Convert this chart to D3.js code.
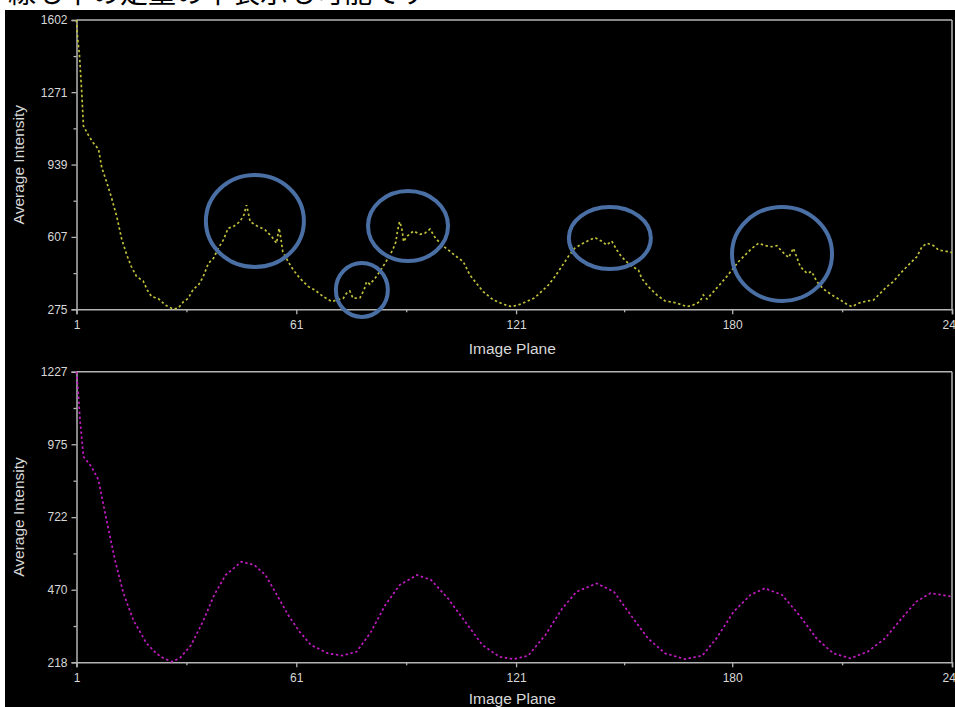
<!DOCTYPE html>
<html>
<head>
<meta charset="utf-8">
<script src="https://cdn.jsdelivr.net/npm/d3@7"></script>
<style>
  html, body { margin: 0; padding: 0; background: #ffffff; }
  svg { display: block; }
</style>
</head>
<body>
<svg id="chart" width="955" height="707"></svg>
<script>
// ---------------- DATA ----------------
const captionText = "線も中の定量の中表示も可能です";

const xTickLabels = ["1", "61", "121", "180", "240"];
const yTickLabelsTop = ["275", "607", "939", "1271", "1602"];
const yTickLabelsBottom = ["218", "470", "722", "975", "1227"];
const xTitle = "Image Plane";
const yTitle = "Average Intensity";

// Top series (yellow): image plane / average intensity
const planesTop = [1, 1.3, 1.8, 2.4, 2.9, 4.2, 5.5, 7, 7.9, 9.2, 10.5, 12, 13.3, 14.7, 16, 17.4, 19.2, 20.3, 21.5, 23.3, 25.2, 27.4, 28.8, 30.2, 31.5, 32.9, 34.3, 35.6, 37, 38.4, 39.7, 41.1, 42.4, 43.8, 45.6, 46.7, 47.4, 47.9, 48.4, 50.2, 52.5, 54.3, 55.6, 56.3, 56.8, 57.3, 58.8, 60.2, 62, 64.3, 66.1, 68.4, 70.7, 72, 73.8, 74.7, 75.6, 76.5, 78.4, 79.5, 80.2, 81.1, 82.5, 83.8, 85.2, 86.6, 87.5, 88.2, 88.6, 89.2, 89.8, 90.3, 91.1, 93, 94.8, 96.1, 97.5, 98.9, 100.7, 102.5, 104.8, 106.6, 108.4, 110.2, 112, 114.8, 117.5, 119.8, 121.6, 123.4, 126.1, 127.9, 129.8, 131.6, 133.4, 135.2, 137, 139.3, 141.1, 142.5, 144.3, 145.7, 147.1, 148.5, 149.8, 152.1, 154.4, 155.3, 157.1, 159.4, 161.7, 164, 165.8, 167.6, 169.4, 171.2, 172.1, 173.1, 174.9, 176.7, 178.5, 179.9, 181.7, 183.5, 185.4, 187.2, 189, 190.8, 192.2, 193.5, 195.4, 196.7, 197.4, 198.6, 200.4, 201.7, 203.1, 204.9, 207.2, 209.5, 211.3, 212.7, 214.5, 216.8, 218.6, 220.4, 222.2, 224, 225.9, 228.1, 230.4, 231.8, 233.2, 235, 236.3, 239.1, 240];
const valuesTop = [1602, 1520, 1441, 1280, 1116, 1075, 1040, 1010, 925, 860, 790, 700, 600, 525, 470, 425, 405, 364, 333, 325, 295, 276, 281, 310, 325, 368, 386, 425, 486, 509, 555, 593, 647, 654, 677, 708, 753, 718, 677, 658, 639, 608, 578, 647, 600, 539, 493, 455, 417, 379, 363, 333, 310, 318, 325, 348, 359, 325, 328, 364, 402, 390, 417, 448, 486, 524, 555, 585, 632, 677, 647, 585, 608, 634, 619, 624, 643, 604, 570, 547, 516, 493, 432, 394, 356, 318, 298, 287, 295, 307, 328, 356, 386, 425, 470, 516, 555, 578, 593, 604, 588, 570, 588, 547, 516, 478, 455, 417, 379, 341, 313, 307, 298, 287, 295, 310, 341, 322, 356, 390, 425, 455, 493, 524, 555, 578, 567, 562, 567, 542, 512, 555, 524, 470, 440, 448, 402, 368, 341, 318, 298, 287, 303, 313, 318, 348, 379, 402, 440, 478, 516, 562, 578, 567, 547, 539, 535];

// Bottom series (magenta)
const planesBottom = [1, 1.5, 1.96, 2.9, 5.1, 7, 7.9, 9.2, 11.5, 13.8, 16.5, 20.1, 22.8, 24.5, 26.9, 29.2, 32.3, 35.5, 38.6, 41.7, 46, 49.5, 52.6, 55.7, 58.8, 61.9, 65, 69.7, 73.6, 77.5, 81.4, 85.3, 89.2, 93.9, 97.8, 102.4, 107.1, 111.8, 116.5, 120.4, 124.3, 129, 133.6, 137.5, 143, 147.7, 152.3, 157, 161.7, 167.1, 171.8, 175.7, 180.4, 185, 188.9, 193.6, 198.3, 203, 207.6, 212.3, 217, 221.7, 226.3, 230.2, 234.1, 237.2, 240];
const valuesBottom = [1227, 1150, 1059, 932, 897, 851, 793, 712, 573, 458, 365, 284, 249, 234, 220, 232, 278, 359, 452, 521, 567, 556, 521, 452, 382, 324, 278, 249, 241, 255, 324, 417, 486, 521, 504, 440, 359, 278, 237, 229, 241, 313, 405, 463, 492, 463, 382, 301, 249, 229, 241, 301, 394, 452, 475, 452, 382, 301, 249, 232, 255, 301, 371, 428, 458, 452, 446];

// Annotation ellipses on the top chart (centre in data units)
const markPlanes = [49.7, 78.9, 91.5, 146.6, 193.6];
const markValues = [680, 364, 657, 602, 529];

// ---------------- LAYOUT ----------------
const svg = d3.select("#chart");
const W = 955, H = 707;
const xLeft = 76.5, xRight = 952;
const panels = [
  { top: 20, bottom: 309.3, labels: yTickLabelsTop, planes: planesTop, values: valuesTop, color: "#c2c23a", titleY: 349 },
  { top: 371.7, bottom: 662.3, labels: yTickLabelsBottom, planes: planesBottom, values: valuesBottom, color: "#c41cc4", titleY: 699 }
];
const markRx = [49, 26, 40, 41, 50];
const markRy = [46, 27, 35, 31, 47];

// caption (mostly hidden behind the black panel, as in the screenshot)
svg.append("text")
  .attr("x", 8).attr("y", 3)
  .attr("font-family", "'Noto Sans CJK JP', 'Noto Sans CJK SC', sans-serif")
  .attr("font-size", 28)
  .attr("fill", "#000")
  .text(captionText);

svg.append("rect")
  .attr("x", 5).attr("y", 10).attr("width", W - 5).attr("height", H - 10)
  .attr("fill", "#000");

const axisColor = "#b4b4b4";
const labelColor = "#d8d8d8";
const font = "'Liberation Sans', Arial, sans-serif";

const xTickVals = xTickLabels.map(Number);
const xMinor = d3.pairs(xTickVals).map(([a, b]) => (a + b) / 2);

const x = d3.scaleLinear().domain([xTickVals[0], xTickVals[xTickVals.length - 1]]).range([xLeft, xRight]);

panels.forEach((p, idx) => {
  const yVals = p.labels.map(Number);
  const yMinor = d3.pairs(yVals).map(([a, b]) => (a + b) / 2);
  const y = d3.scaleLinear().domain([yVals[0], yVals[yVals.length - 1]]).range([p.bottom, p.top]);
  const g = svg.append("g");

  // frame (top and right)
  g.append("line").attr("x1", xLeft).attr("x2", xRight).attr("y1", p.top).attr("y2", p.top)
    .attr("stroke", axisColor).attr("stroke-width", 1.5);
  g.append("line").attr("x1", xRight).attr("x2", xRight).attr("y1", p.top).attr("y2", p.bottom)
    .attr("stroke", axisColor).attr("stroke-width", 1.5);

  // y axis
  g.append("g").attr("transform", `translate(${xLeft},0)`)
    .call(d3.axisLeft(y).tickValues(yVals).tickFormat((d, i) => p.labels[i]).tickSize(5).tickPadding(4));
  g.append("g").attr("transform", `translate(${xLeft},0)`)
    .call(d3.axisLeft(y).tickValues(yMinor).tickFormat("").tickSize(3))
    .select(".domain").remove();

  // x axis
  g.append("g").attr("transform", `translate(0,${p.bottom})`)
    .call(d3.axisBottom(x).tickValues(xTickVals).tickFormat((d, i) => xTickLabels[i]).tickSize(5).tickPadding(6));
  g.append("g").attr("transform", `translate(0,${p.bottom})`)
    .call(d3.axisBottom(x).tickValues(xMinor).tickFormat("").tickSize(3))
    .select(".domain").remove();

  g.selectAll(".domain").attr("stroke", axisColor).attr("stroke-width", 1.5);
  g.selectAll(".tick line").attr("stroke", axisColor).attr("stroke-width", 1.3);
  g.selectAll(".tick text").attr("fill", labelColor).attr("font-family", font).attr("font-size", 12);

  // titles
  g.append("text").attr("x", (xLeft + xRight) / 2 - 2).attr("y", p.titleY + 5)
    .attr("text-anchor", "middle").attr("font-family", font).attr("font-size", 15.5)
    .attr("fill", labelColor).text(xTitle);
  g.append("text")
    .attr("transform", `translate(24,${(p.top + p.bottom) / 2}) rotate(-90)`)
    .attr("text-anchor", "middle").attr("font-family", font).attr("font-size", 15.5)
    .attr("fill", labelColor).text(yTitle);

  // series
  const pts = p.planes.map((d, i) => [d, p.values[i]]);
  const line = d3.line().x(d => x(d[0])).y(d => y(d[1])).curve(d3.curveLinear);
  g.append("path").datum(pts)
    .attr("d", line)
    .attr("fill", "none")
    .attr("stroke", p.color)
    .attr("stroke-width", 1.7)
    .attr("stroke-dasharray", "2.4,2.6");

  // annotation ellipses on the top panel
  if (idx === 0) {
    g.selectAll("ellipse.mark").data(markPlanes).enter().append("ellipse")
      .attr("class", "mark")
      .attr("cx", d => x(d))
      .attr("cy", (d, i) => y(markValues[i]))
      .attr("rx", (d, i) => markRx[i])
      .attr("ry", (d, i) => markRy[i])
      .attr("fill", "none")
      .attr("stroke", "#4a6fa5")
      .attr("stroke-width", 4);
  }
});
</script>
</body>
</html>
